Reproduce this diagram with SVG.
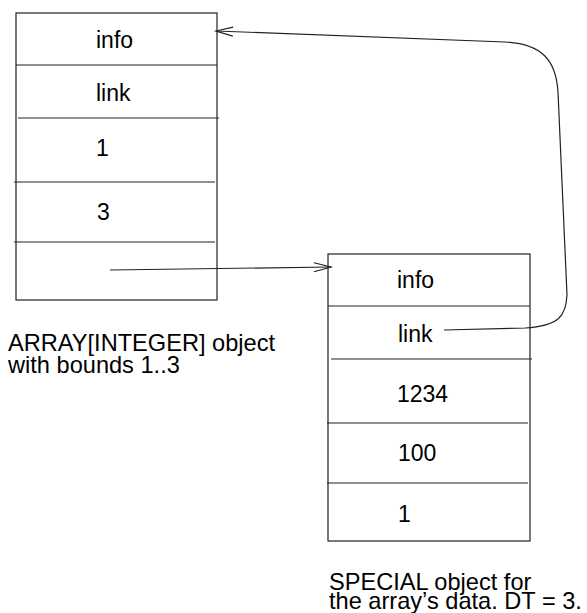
<svg xmlns="http://www.w3.org/2000/svg" width="587" height="613" viewBox="0 0 587 613">
<style>
.box{fill:none;stroke:#222;stroke-width:1.2}
.div{stroke:#222;stroke-width:1.2}
.t{font-family:"Liberation Sans",Arial,sans-serif;font-size:23px;fill:#000}
.lbl{font-family:"Liberation Sans",Arial,sans-serif;font-size:23.6px;fill:#000}
.conn{fill:none;stroke:#222;stroke-width:1.2}
</style>
<defs>
<marker id="open" markerUnits="userSpaceOnUse" markerWidth="24" markerHeight="14" refX="0" refY="0" viewBox="-20 -7 24 14" orient="auto" overflow="visible">
<path d="M -17 -4.5 L 0 0 L -17 4.5" fill="none" stroke="#222" stroke-width="1.2"/>
</marker>
</defs>
<rect width="587" height="613" fill="#fff"/>
<g id="array-object">
<rect class="box" x="16" y="13" width="201" height="287"/>
<line class="div" x1="16" y1="65" x2="217" y2="65"/>
<line class="div" x1="18" y1="118" x2="219" y2="118"/>
<line class="div" x1="14" y1="182" x2="215" y2="182"/>
<line class="div" x1="14" y1="242" x2="215" y2="242"/>
<text class="t" x="96" y="48">info</text>
<text class="t" x="96" y="101">link</text>
<text class="t" x="96" y="156">1</text>
<text class="t" x="97" y="220">3</text>
</g>
<g id="special-object">
<rect class="box" x="328" y="254" width="202" height="287"/>
<line class="div" x1="328" y1="306" x2="530" y2="306"/>
<line class="div" x1="331" y1="359" x2="532" y2="359"/>
<line class="div" x1="327" y1="423" x2="528" y2="423"/>
<line class="div" x1="327" y1="483" x2="528" y2="483"/>
<text class="t" x="397" y="288">info</text>
<text class="t" x="398" y="342">link</text>
<text class="t" x="397" y="402">1234</text>
<text class="t" x="398" y="461">100</text>
<text class="t" x="398" y="522">1</text>
</g>
<g id="label-array">
<text class="lbl" x="8" y="351">ARRAY[INTEGER] object</text>
<text class="lbl" x="8" y="373">with bounds 1..3</text>
</g>
<g id="label-special">
<text class="lbl" x="329" y="590">SPECIAL object for</text>
<text class="lbl" x="329" y="609">the array’s data. DT = 3.</text>
</g>
<g id="connectors">
<path class="conn" d="M 110 270 L 331 267" marker-end="url(#open)"/>
<path class="conn" d="M 444 330 L 525 328 C 560 326 566 315 567 295 L 558 92 C 556 60 542 44 505 42 L 216 31" marker-end="url(#open)"/>
</g>
</svg>
